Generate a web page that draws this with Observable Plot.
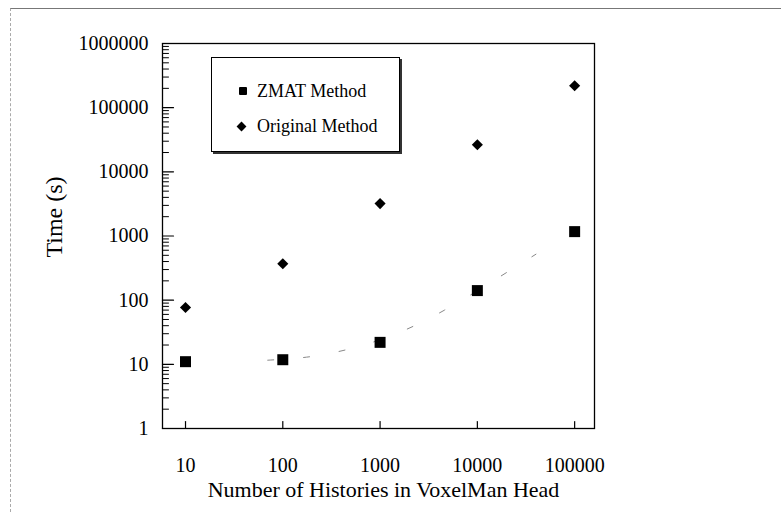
<!DOCTYPE html>
<html><head><meta charset="utf-8">
<script src="https://cdn.jsdelivr.net/npm/d3@7"></script>
<script src="https://cdn.jsdelivr.net/npm/@observablehq/plot@0.6"></script>
<style>
html,body{margin:0;padding:0;background:#fff;}
#wrap{position:relative;width:781px;height:512px;font-family:"Liberation Serif","Times New Roman",serif;color:#000;}
#page{position:absolute;left:10px;top:8px;right:0;bottom:0;border-top:1px solid #777;border-left:1px dashed #aaa;pointer-events:none;}
#legend{position:absolute;left:211px;top:57px;width:187px;height:93px;border:1px solid #000;box-shadow:2px 2px 0 #333;background:#fff;}
#legend .it{position:absolute;left:45px;height:22px;line-height:22px;font-size:18px;white-space:nowrap;}
#legend .sq{position:absolute;left:27px;top:29px;width:8px;height:8px;background:#000;border-radius:1px;}
#legend .dm{position:absolute;left:26px;top:65px;width:7px;height:7px;background:#000;transform:rotate(45deg);}
svg{position:absolute;left:0;top:0;}
</style>
</head><body>
<div id="wrap"></div>
<script>
const histories = [10, 100, 1000, 10000, 100000];
const zmatTime = [11, 11.8, 22, 141, 1170];
const originalTime = [77, 370, 3200, 26500, 220000];
const fitHistories = [70, 250, 2500, 4600, 8000, 20000, 40000];
const fitTime = [11.6, 14, 43, 70, 114, 270, 520];
const yMajor = [1, 10, 100, 1000, 10000, 100000, 1000000];
const xMajor = [10, 100, 1000, 10000, 100000];
const seriesNames = ["ZMAT Method", "Original Method"];
const xTitle = "Number of Histories in VoxelMan Head";
const yTitle = "Time (s)";

const yMinor = [];
for (let k = 0; k < 6; k++) for (let m = 2; m <= 9; m++) yMinor.push(m * Math.pow(10, k));

const zmat = histories.map((h, i) => ({h, t: zmatTime[i]}));
const original = histories.map((h, i) => ({h, t: originalTime[i]}));
const fit = fitHistories.map((h, i) => ({h, t: fitTime[i]}));

const tickShape = {draw(context, l) { context.moveTo(0, 0); context.lineTo(0, -l); }};

const chart = Plot.plot({
  width: 781, height: 512,
  marginLeft: 162, marginRight: 187, marginTop: 43, marginBottom: 84,
  style: {fontFamily: "'Liberation Serif', 'Times New Roman', serif", fontSize: "20px", color: "#000", background: "transparent"},
  x: {type: "log", domain: [5.8, 160000], axis: null},
  y: {type: "log", domain: [1, 1000000], axis: null},
  marks: [
    Plot.frame({stroke: "#000", strokeWidth: 1.3}),
    Plot.vector(yMinor, {y: d => d, frameAnchor: "left", length: 6, rotate: 90, anchor: "start", shape: tickShape, stroke: "#000", strokeWidth: 1}),
    Plot.vector(yMajor, {y: d => d, frameAnchor: "left", length: 11, rotate: 90, anchor: "start", shape: tickShape, stroke: "#000", strokeWidth: 1.2}),
    Plot.vector(xMajor, {x: d => d, frameAnchor: "bottom", length: 7, rotate: 0, anchor: "start", shape: tickShape, stroke: "#000", strokeWidth: 1.2}),
    Plot.axisY(yMajor, {tickSize: 0, tickPadding: 14, tickFormat: d3.format("d"), fontSize: 20, label: null}),
    Plot.axisX(xMajor, {tickSize: 0, tickPadding: 29, tickFormat: d3.format("d"), fontSize: 20, label: null}),
    Plot.line(fit, {x: "h", y: "t", stroke: "#888", strokeWidth: 1, strokeDasharray: "6,30", curve: "monotone-x"}),
    Plot.dot(original, {x: "h", y: "t", symbol: "diamond2", r: 5, fill: "#000"}),
    Plot.dot(zmat, {x: "h", y: "t", symbol: "square", r: 6.2, fill: "#000"}),
    Plot.text([yTitle], {frameAnchor: "left", textAnchor: "middle", dx: -108, dy: -19, rotate: -90, fontSize: 24}),
    Plot.text([xTitle], {frameAnchor: "bottom", dx: 5, dy: 68, fontSize: 22})
  ]
});

const wrap = document.getElementById("wrap");
wrap.appendChild(chart);
const page = document.createElement("div"); page.id = "page"; wrap.appendChild(page);
const legend = document.createElement("div"); legend.id = "legend";
legend.innerHTML = `<div class="sq"></div><div class="it" style="top:22px">${seriesNames[0]}</div>
<div class="dm"></div><div class="it" style="top:57px">${seriesNames[1]}</div>`;
wrap.appendChild(legend);
</script>
</body></html>
